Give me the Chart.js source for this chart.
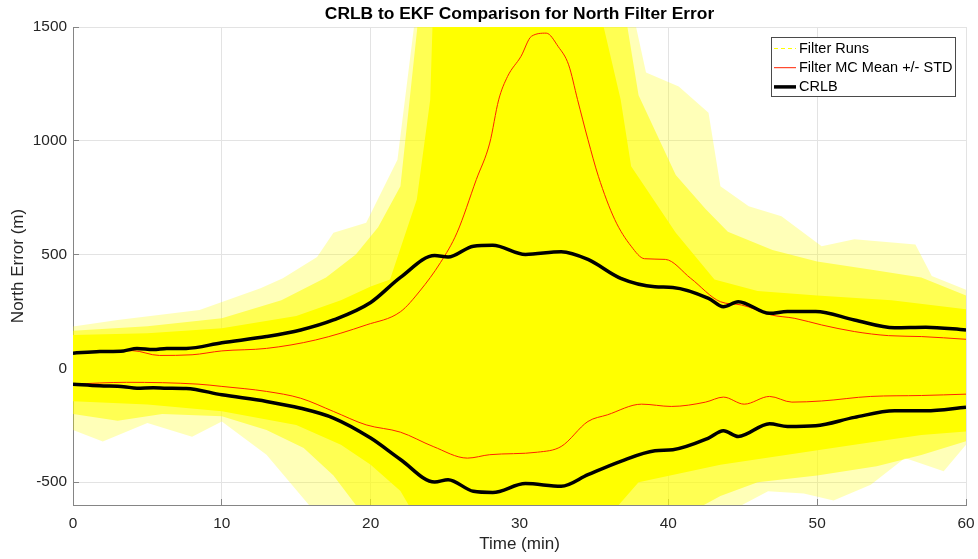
<!DOCTYPE html>
<html>
<head>
<meta charset="utf-8">
<script src="https://cdn.jsdelivr.net/npm/chart.js@4/dist/chart.umd.min.js"></script>
<style>
  body { margin: 0; background: #fff; }
  canvas { display: block; }
</style>
</head>
<body>
<canvas id="north-error" width="978" height="559"></canvas>
<script>
// ticks
const timeTicks = [0, 10, 20, 30, 40, 50, 60];
const errorTicks = [-500, 0, 500, 1000, 1500];

// CRLB bounds (m) vs time (min)
const crlbTime  = [0, 1.8, 3.4, 4.3, 5.4, 6.3, 7.6, 10, 13, 15.3, 17.5, 20, 22, 24.3, 25.2, 26.9, 28.2, 30.4, 32.8, 34.6, 36.8, 39.1, 40.3, 42.7, 43.7, 44.7, 46.8, 48, 49.9, 52.5, 55.2, 57.3, 60];
const crlbUpper = [67, 74, 77, 88, 83, 88, 88, 113, 140, 169, 213, 290, 400, 496, 489, 537, 541, 501, 513, 479, 396, 359, 356, 308, 271, 293, 242, 250, 250, 213, 179, 181, 169];
const crlbLower = [-69, -76, -80, -87, -85, -87, -88, -116, -145, -175, -218, -306, -400, -499, -489, -540, -545, -506, -518, -467, -408, -362, -357, -306, -274, -299, -243, -255, -252, -215, -186, -186, -171];

// filter Monte Carlo mean +/- std
const mcUpperTime = [0, 2, 4, 5.8, 8, 10, 13, 16.3, 19.7, 22, 23.3, 24.7, 25.8, 27.1, 28, 28.6, 29.2, 30.1, 30.8, 31.8, 32.6, 33.3, 33.9, 34.6, 35.3, 36.4, 37.5, 38.4, 39.8, 41.5, 43.5, 44.9, 46.9, 48.5, 50.3, 52.5, 54.8, 57, 60];
const mcUpper     = [67, 72, 78, 57, 60, 77, 88, 125, 191, 249, 340, 466, 596, 830, 990, 1180, 1283, 1371, 1459, 1473, 1414, 1334, 1181, 1005, 844, 654, 537, 482, 479, 396, 293, 279, 235, 220, 191, 162, 144, 140, 128];
const mcLowerTime = [0, 3.6, 8.4, 10, 13, 15.3, 17.5, 19.7, 22, 24.2, 26.5, 28, 31.2, 32.8, 34.6, 35.9, 38.2, 40.2, 42.5, 43.7, 45.1, 46.8, 48.3, 50.3, 53.6, 57, 60];
const mcLower     = [-69, -61, -69, -79, -101, -131, -189, -248, -280, -343, -394, -379, -368, -343, -233, -204, -157, -167, -148, -126, -157, -123, -148, -143, -123, -119, -113];

// spread of the individual filter runs: dense core, medium band, sparse outer reach
const runsCoreUpperTime = [0, 5, 10, 15, 18, 20, 21.3, 23.1, 24, 24.2, 35.3, 36.8, 37.5, 40.5, 43.1, 46, 50, 55, 60];
const runsCoreUpper     = [147, 155, 176, 230, 300, 360, 391, 742, 1180, 1600, 1600, 1180, 888, 596, 391, 340, 320, 300, 260];
const runsCoreLowerTime = [0, 5, 10, 15, 18, 20, 22, 23, 36, 38, 43.5, 48, 52.5, 57, 60];
const runsCoreLower     = [-144, -158, -188, -248, -335, -423, -539, -650, -650, -500, -423, -379, -335, -292, -277];
const runsMidUpperTime = [0, 5, 10, 14, 17, 19, 20.5, 22, 23.3, 37, 38, 40.5, 42.5, 44, 47, 50, 54, 57, 60];
const runsMidUpper     = [165, 185, 220, 300, 400, 500, 620, 800, 1600, 1600, 1200, 850, 700, 600, 520, 470, 430, 400, 320];
const runsMidLowerTime = [0, 3, 6, 10, 13, 15.5, 17.5, 19, 19.5, 41, 43.5, 46, 50, 54, 57, 60];
const runsMidLower     = [-200, -230, -200, -210, -270, -350, -470, -600, -650, -650, -560, -500, -470, -430, -380, -320];
const runsOuterUpperTime = [0, 3, 8.5, 12.6, 14.1, 16.4, 17.5, 19.7, 21.8, 23.1, 37.5, 38.5, 40.7, 42.7, 43.5, 45.4, 47.6, 50.3, 52.5, 56.6, 57.7, 60];
const runsOuterUpper     = [184, 213, 257, 352, 396, 490, 596, 640, 917, 1600, 1600, 1300, 1239, 1123, 800, 713, 669, 537, 567, 545, 406, 346];
const runsOuterLowerTime = [0, 2, 5, 8, 10, 13, 16.5, 43.5, 46.7, 49.1, 51.1, 53.6, 55.9, 58.5, 60];
const runsOuterLower     = [-270, -321, -240, -300, -233, -379, -650, -650, -540, -550, -580, -511, -394, -452, -335];

const pts = (xs, ys) => xs.map((x, i) => ({ x: x, y: ys[i] }));

const FONT = '"Liberation Sans", Arial, Helvetica, sans-serif';
const AXIS_GREY = '#858585';
const TEXT_GREY = '#262626';

const lineDefaults = { pointRadius: 0, fill: false, cubicInterpolationMode: 'monotone' };
const bandEdge = { pointRadius: 0, borderWidth: 0, borderColor: 'transparent' };

const datasets = [
  Object.assign({ label: 'CRLB', data: pts(crlbTime, crlbUpper), borderColor: '#000', borderWidth: 3.5, order: 0 }, lineDefaults),
  Object.assign({ label: 'CRLB', data: pts(crlbTime, crlbLower), borderColor: '#000', borderWidth: 3.5, order: 0 }, lineDefaults),
  Object.assign({ label: 'Filter MC Mean +/- STD', data: pts(mcUpperTime, mcUpper), borderColor: '#ff2200', borderWidth: 1, order: 1 }, lineDefaults),
  Object.assign({ label: 'Filter MC Mean +/- STD', data: pts(mcLowerTime, mcLower), borderColor: '#ff2200', borderWidth: 1, order: 1 }, lineDefaults),
  Object.assign({ label: 'Filter Runs', data: pts(runsCoreUpperTime, runsCoreUpper), backgroundColor: '#ffff00', fill: 5, order: 3 }, bandEdge),
  Object.assign({ label: 'Filter Runs', data: pts(runsCoreLowerTime, runsCoreLower), fill: false, order: 3 }, bandEdge),
  Object.assign({ label: 'Filter Runs', data: pts(runsMidUpperTime, runsMidUpper), backgroundColor: 'rgba(255, 255, 0, 0.55)', fill: 7, order: 4 }, bandEdge),
  Object.assign({ label: 'Filter Runs', data: pts(runsMidLowerTime, runsMidLower), fill: false, order: 4 }, bandEdge),
  Object.assign({ label: 'Filter Runs', data: pts(runsOuterUpperTime, runsOuterUpper), backgroundColor: 'rgba(255, 255, 0, 0.28)', fill: 9, order: 5 }, bandEdge),
  Object.assign({ label: 'Filter Runs', data: pts(runsOuterLowerTime, runsOuterLower), fill: false, order: 5 }, bandEdge)
];

// matlab-like title over the plot box and boxed legend in the corner
const matlabDecor = {
  id: 'matlabDecor',
  afterDraw(chart) {
    const ctx = chart.ctx;
    const area = chart.chartArea;
    ctx.save();
    ctx.fillStyle = '#000';
    ctx.font = 'bold 17.4px ' + FONT;
    ctx.textAlign = 'center';
    ctx.textBaseline = 'middle';
    ctx.fillText('CRLB to EKF Comparison for North Filter Error', (area.left + area.right) / 2, 14);

    const bx = 771.5, by = 37.5, bw = 184, bh = 59;
    ctx.fillStyle = '#fff';
    ctx.fillRect(bx, by, bw, bh);
    ctx.strokeStyle = '#4a4a4a';
    ctx.lineWidth = 1;
    ctx.strokeRect(bx, by, bw, bh);

    const items = [
      { text: 'Filter Runs', color: '#ffff00', width: 1, dash: [4, 3] },
      { text: 'Filter MC Mean +/- STD', color: '#ff2200', width: 1, dash: [] },
      { text: 'CRLB', color: '#000', width: 3.5, dash: [] }
    ];
    ctx.font = '14.5px ' + FONT;
    ctx.textAlign = 'left';
    items.forEach((it, i) => {
      const y = 48.5 + i * 19.2;
      ctx.beginPath();
      ctx.setLineDash(it.dash);
      ctx.strokeStyle = it.color;
      ctx.lineWidth = it.width;
      ctx.moveTo(774, y);
      ctx.lineTo(796, y);
      ctx.stroke();
      ctx.setLineDash([]);
      ctx.fillStyle = '#000';
      ctx.fillText(it.text, 799, y + 0.5);
    });
    ctx.restore();
  }
};

const config = {
  type: 'line',
  data: { datasets: datasets },
  options: {
    responsive: false,
    animation: false,
    layout: { padding: { top: 27, right: 12, left: 0, bottom: 0 } },
    plugins: {
      legend: { display: false },
      tooltip: { enabled: false },
      title: { display: false }
    },
    scales: {
      x: {
        type: 'linear',
        min: 0,
        max: 60,
        afterBuildTicks: (scale) => { scale.ticks = timeTicks.map(v => ({ value: v })); },
        afterFit: (scale) => { scale.height = 54; scale.paddingLeft = 0; scale.paddingRight = 0; },
        grid: { color: '#e3e3e3', tickColor: AXIS_GREY, tickLength: -6 },
        border: { color: AXIS_GREY },
        ticks: { color: TEXT_GREY, font: { family: FONT, size: 15.4 }, padding: 16, maxRotation: 0,
          callback: (v) => String(v) },
        title: { display: true, text: 'Time (min)', color: TEXT_GREY, font: { family: FONT, size: 17 }, padding: { top: 0, bottom: 4 } }
      },
      y: {
        type: 'linear',
        min: -600,
        max: 1500,
        afterBuildTicks: (scale) => { scale.ticks = errorTicks.map(v => ({ value: v })); },
        afterFit: (scale) => { scale.width = 73; scale.paddingTop = 0; scale.paddingBottom = 0; },
        grid: { color: '#e3e3e3', tickColor: AXIS_GREY, tickLength: -6 },
        border: { color: AXIS_GREY },
        ticks: { color: TEXT_GREY, font: { family: FONT, size: 15.4 }, padding: 12,
          callback: (v) => String(v) },
        title: { display: true, text: 'North Error (m)', color: TEXT_GREY, font: { family: FONT, size: 17 }, padding: { top: 8, bottom: 0 } }
      }
    }
  },
  plugins: [matlabDecor]
};

const northChart = new Chart(document.getElementById('north-error'), config);
</script>
</body>
</html>
